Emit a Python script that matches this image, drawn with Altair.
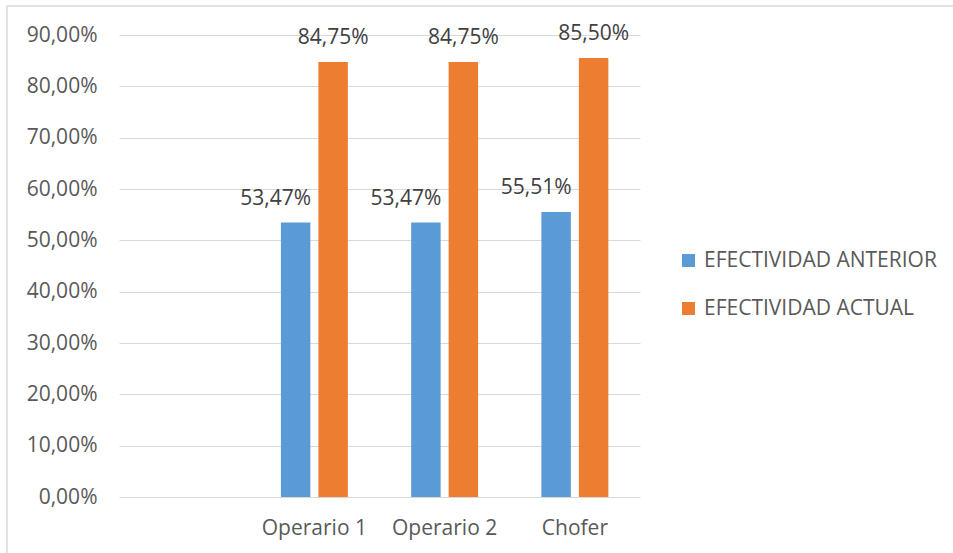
import altair as alt
import pandas as pd

# Categories on the x axis (the first slot is intentionally blank)
categories = ["", "Operario 1", "Operario 2", "Chofer"]
workers = ["Operario 1", "Operario 2", "Chofer"]
series = ["EFECTIVIDAD ANTERIOR", "EFECTIVIDAD ACTUAL"]
anterior = [0.5347, 0.5347, 0.5551]
actual = [0.8475, 0.8475, 0.8550]
colors = ["#5b9bd5", "#ed7d31"]
y_ticks = [0.0, 0.1, 0.2, 0.3, 0.4, 0.5, 0.6, 0.7, 0.8, 0.9]

rows = []
for w, a, b in zip(workers, anterior, actual):
    rows.append({"cat": w, "serie": series[0], "valor": a})
    rows.append({"cat": w, "serie": series[1], "valor": b})
df = pd.DataFrame(rows)
df["etiqueta"] = df["valor"].map(lambda v: f"{v * 100:.2f}%".replace(".", ","))

FONT = "Open Sans"
GRID = "#d9d9d9"
TEXT = "#595959"

W, H = 521, 462
LEFT, TOP = 119, 35

x_enc = alt.X(
    "cat:N",
    sort=categories,
    scale=alt.Scale(domain=categories, paddingInner=0.486, paddingOuter=0.243),
    axis=alt.Axis(
        title=None, labelAngle=0, domain=False, ticks=False, grid=False,
        labelPadding=20, labelFontSize=21, labelColor=TEXT, labelFont=FONT,
    ),
)
xo_enc = alt.XOffset(
    "serie:N", sort=series, scale=alt.Scale(domain=series, paddingInner=0.214)
)
y_enc = alt.Y(
    "valor:Q",
    scale=alt.Scale(domain=[0, 0.9], nice=False),
    axis=alt.Axis(
        title=None, values=y_ticks, domain=False, ticks=False,
        grid=True, gridColor=GRID, gridWidth=1.2,
        labelExpr="replace(format(datum.value, '.2%'), '.', ',')",
        labelPadding=22, labelFontSize=21, labelColor=TEXT, labelFont=FONT,
    ),
)

base = alt.Chart(df)

bars = base.mark_bar().encode(
    x=x_enc,
    xOffset=xo_enc,
    y=y_enc,
    color=alt.Color(
        "serie:N",
        sort=series,
        scale=alt.Scale(domain=series, range=colors),
        legend=alt.Legend(
            title=None, orient="none", legendX=559, legendY=215,
            symbolType="square", symbolSize=169, symbolStrokeWidth=0,
            labelFontSize=21, labelFont=FONT, labelColor=TEXT, labelLimit=0,
            rowPadding=26, labelOffset=5, padding=0,
        ),
    ),
)

label_prev = base.transform_filter(alt.datum.serie == series[0]).mark_text(
    dx=-20, dy=-18, baseline="alphabetic", font=FONT, fontSize=21, color="#404040"
).encode(x=x_enc, xOffset=xo_enc, y=y_enc, text="etiqueta:N")

label_now = base.transform_filter(alt.datum.serie == series[1]).mark_text(
    dy=-18, baseline="alphabetic", font=FONT, fontSize=21, color="#404040"
).encode(x=x_enc, xOffset=xo_enc, y=y_enc, text="etiqueta:N")

# Thin frame lines along the left and top edges of the chart area
frame = alt.Data(values=[{"k": 0}])
frame_left = alt.Chart(frame).mark_rule(color=GRID, strokeWidth=1.5).encode(
    x=alt.value(7 - LEFT), y=alt.value(6 - TOP), y2=alt.value(553 - TOP)
)
frame_top = alt.Chart(frame).mark_rule(color=GRID, strokeWidth=1.5).encode(
    x=alt.value(7 - LEFT), x2=alt.value(953 - LEFT), y=alt.value(6 - TOP)
)

chart = alt.layer(frame_left, frame_top, bars, label_prev, label_now).properties(
    width=W,
    height=H,
    autosize=alt.AutoSizeParams(type="none"),
    padding={"left": LEFT, "top": TOP, "right": 953 - LEFT - W, "bottom": 553 - TOP - H},
    background="white",
).configure_view(stroke=None)

chart.save("out.html", embed_options={"renderer": "svg", "actions": False})
